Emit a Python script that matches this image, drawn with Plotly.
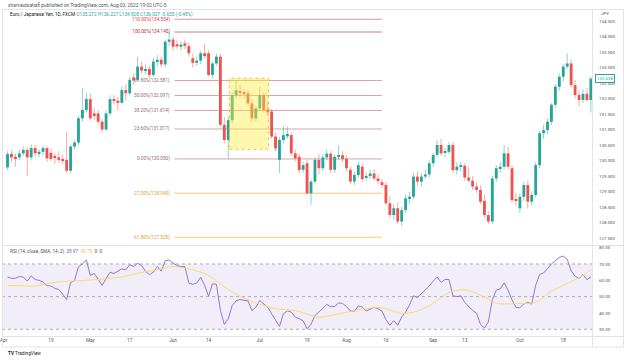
import numpy as np
import pandas as pd
import plotly.graph_objects as go

W, H = 624, 360


def px(x):
    return x / W


def py(y):
    return 1 - y / H


# ---------------- data ----------------
dates = pd.bdate_range("2021-04-02", periods=149)

opens = [129.78, 130.21, 130.12, 130.10, 130.23, 130.34, 130.10, 130.40, 130.23, 130.28,
         130.40, 130.25, 130.15, 130.10, 130.05, 130.02, 129.67, 130.45, 130.58, 131.36,
         131.63, 131.98, 131.52, 131.52, 131.25, 131.00, 131.52, 131.98, 131.93, 131.86,
         132.27, 132.17, 132.68, 132.60, 133.03, 132.90, 132.95, 132.76, 133.19, 133.25,
         133.10, 133.83, 133.90, 133.75, 133.67, 133.78, 133.69, 133.30, 133.15, 133.22,
         133.46, 133.46, 132.76, 133.13, 133.35, 131.15, 130.66, 131.30, 132.11, 132.22,
         132.20, 132.17, 131.84, 131.36, 131.68, 132.11, 131.65, 131.58, 130.77, 130.02,
         130.66, 130.78, 130.82, 130.23, 130.12, 129.70, 129.91, 128.94, 129.32, 130.02,
         129.75, 130.10, 130.22, 129.70, 130.12, 130.17, 130.05, 129.70, 129.32, 129.53,
         129.80, 129.45, 129.50, 129.58, 129.42, 129.30, 129.21, 128.62, 128.24, 128.46,
         128.03, 128.40, 128.78, 128.83, 129.48, 129.32, 129.48, 129.55, 129.91, 130.18,
         130.50, 130.25, 130.28, 130.50, 129.69, 129.80, 129.83, 129.45, 129.35, 129.16,
         129.05, 128.70, 128.24, 128.03, 129.42, 129.75, 129.80, 130.23, 129.75, 128.75,
         128.46, 128.83, 129.21, 128.67, 128.89, 129.85, 130.88, 130.98, 131.25, 131.80,
         132.38, 132.70, 133.03, 133.13, 132.43, 132.11, 131.95, 132.15, 131.95]

highs = [130.30, 130.32, 130.22, 130.35, 130.45, 130.42, 130.52, 130.50, 130.36, 130.48,
         130.47, 130.38, 130.25, 130.30, 130.18, 130.93, 130.50, 130.65, 131.45, 132.33,
         132.20, 132.15, 131.70, 131.62, 131.35, 131.60, 132.10, 132.10, 132.05, 132.40,
         132.45, 132.70, 132.80, 133.35, 133.20, 133.10, 133.05, 133.30, 133.40, 133.35,
         133.90, 134.145, 134.00, 133.90, 133.85, 133.90, 133.80, 133.45, 133.35, 133.55,
         133.78, 133.55, 133.20, 133.45, 133.45, 131.40, 131.40, 132.20, 132.60, 132.45,
         132.30, 132.28, 131.95, 131.75, 132.38, 132.20, 131.90, 131.65, 130.90, 130.75,
         131.10, 131.09, 130.90, 130.35, 130.20, 129.95, 130.00, 129.40, 130.10, 130.20,
         130.20, 130.35, 130.30, 130.20, 130.50, 130.30, 130.15, 129.80, 129.65, 129.95,
         129.90, 129.62, 129.70, 129.72, 129.55, 129.40, 129.30, 128.85, 128.60, 128.65,
         128.50, 128.90, 129.00, 129.60, 129.65, 129.60, 129.70, 130.00, 130.25, 130.65,
         130.70, 130.40, 130.60, 130.60, 129.95, 129.95, 129.90, 129.80, 129.50, 129.30,
         129.20, 128.90, 128.35, 129.50, 129.85, 129.95, 130.50, 130.45, 129.85, 128.95,
         128.95, 129.30, 129.35, 129.00, 129.95, 130.95, 131.15, 131.35, 131.85, 132.45,
         132.80, 133.10, 133.46, 133.25, 132.60, 132.25, 132.30, 132.35, 132.70]

lows = [129.70, 129.95, 129.80, 130.00, 130.15, 129.50, 130.00, 130.10, 130.12, 130.18,
        129.95, 129.98, 129.90, 129.93, 129.90, 129.60, 129.58, 130.35, 130.50, 131.25,
        131.55, 131.30, 131.30, 131.20, 130.90, 130.95, 131.45, 131.80, 131.60, 131.80,
        131.95, 132.10, 132.45, 132.55, 132.80, 132.80, 132.65, 132.70, 133.05, 133.00,
        133.00, 133.70, 133.55, 133.60, 133.55, 133.60, 133.35, 133.00, 133.05, 133.10,
        133.30, 132.70, 132.65, 133.05, 131.10, 130.55, 130.05, 131.20, 132.00, 132.05,
        132.00, 131.80, 131.25, 131.25, 131.60, 131.55, 131.45, 130.70, 130.30, 129.60,
        130.55, 130.70, 130.15, 129.98, 129.60, 129.60, 128.90, 128.57, 129.25, 129.55,
        129.65, 130.00, 129.60, 129.60, 130.02, 129.95, 129.65, 129.25, 129.20, 129.45,
        129.30, 129.35, 129.40, 129.35, 129.25, 129.10, 128.55, 128.15, 128.10, 127.95,
        127.90, 128.30, 128.60, 128.75, 129.20, 129.15, 129.40, 129.45, 129.80, 130.10,
        130.15, 130.10, 130.20, 129.60, 129.55, 129.65, 129.35, 129.30, 129.05, 128.95,
        128.60, 128.15, 127.95, 127.95, 129.30, 129.60, 129.70, 129.70, 128.65, 128.55,
        128.30, 128.70, 128.45, 128.55, 128.80, 129.75, 130.70, 130.85, 131.15, 131.70,
        132.25, 132.55, 132.95, 132.35, 132.00, 131.75, 131.85, 131.90, 131.55]

closes = [130.21, 130.10, 130.06, 130.23, 130.34, 130.10, 130.40, 130.23, 130.28, 130.40,
          130.07, 130.05, 130.10, 130.02, 129.98, 129.67, 130.45, 130.58, 131.36, 131.63,
          131.98, 131.36, 131.46, 131.25, 131.00, 131.52, 131.98, 131.93, 131.86, 132.27,
          132.17, 132.60, 132.58, 133.03, 132.90, 132.95, 132.76, 133.19, 133.25, 133.10,
          133.83, 133.90, 133.67, 133.68, 133.74, 133.70, 133.46, 133.15, 133.22, 133.46,
          133.40, 132.76, 133.13, 133.35, 131.15, 130.66, 131.30, 132.11, 132.27, 132.18,
          132.15, 131.84, 131.36, 131.68, 132.11, 131.63, 131.55, 130.77, 130.39, 130.66,
          130.82, 130.86, 130.23, 130.07, 129.69, 129.85, 128.94, 129.32, 130.02, 129.75,
          130.10, 130.22, 129.70, 130.12, 130.17, 130.05, 129.75, 129.32, 129.53, 129.85,
          129.40, 129.50, 129.58, 129.42, 129.37, 129.21, 128.62, 128.24, 128.46, 128.03,
          128.40, 128.78, 128.83, 129.48, 129.32, 129.48, 129.55, 129.91, 130.18, 130.50,
          130.23, 130.28, 130.50, 129.69, 129.80, 129.83, 129.45, 129.35, 129.16, 129.05,
          128.67, 128.24, 128.03, 129.42, 129.75, 129.80, 130.23, 129.80, 128.72, 128.70,
          128.83, 129.21, 128.67, 128.89, 129.85, 130.88, 130.98, 131.25, 131.80, 132.38,
          132.70, 133.03, 133.13, 132.43, 132.11, 131.95, 132.15, 131.95, 132.638]

rsi = [62.0, 61.2, 61.2, 62.3, 62.0, 59.5, 62.7, 60.5, 60.0, 59.0,
       56.7, 56.5, 55.0, 54.4, 51.5, 48.2, 58.6, 59.9, 68.3, 70.0,
       72.4, 63.0, 64.2, 60.5, 56.9, 61.0, 64.9, 64.2, 65.5, 67.0,
       66.4, 69.6, 68.4, 70.4, 69.2, 65.5, 63.5, 64.9, 68.4, 65.6,
       72.0, 72.4, 70.5, 69.0, 68.4, 68.4, 58.3, 57.5, 58.3, 61.9,
       57.0, 50.2, 57.9, 57.5, 41.7, 33.0, 36.5, 44.5, 47.5, 48.2,
       47.8, 47.4, 41.5, 43.5, 47.6, 45.8, 43.5, 39.5, 35.5, 31.8,
       39.5, 41.3, 40.5, 37.4, 36.5, 35.2, 30.3, 33.0, 38.5, 40.5,
       42.8, 45.3, 43.8, 44.0, 46.1, 45.9, 43.9, 41.2, 41.0, 44.3,
       43.6, 41.2, 42.5, 43.5, 42.5, 41.2, 36.0, 32.5, 35.3, 32.5,
       37.5, 40.5, 45.0, 50.5, 49.5, 51.8, 54.0, 56.5, 59.5, 62.0,
       58.7, 60.5, 60.5, 50.5, 50.0, 50.5, 46.5, 43.7, 41.5, 39.9,
       33.0, 30.8, 34.5, 48.0, 54.0, 54.7, 58.5, 54.0, 48.0, 43.4,
       43.2, 45.5, 46.5, 45.4, 57.0, 63.5, 64.6, 67.0, 70.0, 72.0,
       74.0, 74.8, 73.0, 65.8, 62.5, 61.1, 63.5, 60.4, 62.0]

rsi_ma_dates = ["2021-04-02", "2021-04-09", "2021-04-13", "2021-04-16", "2021-04-21",
                "2021-04-30", "2021-05-07", "2021-05-14", "2021-05-19", "2021-05-26",
                "2021-06-01", "2021-06-07", "2021-06-14", "2021-06-21", "2021-06-29",
                "2021-07-07", "2021-07-14", "2021-07-22", "2021-07-30", "2021-08-09",
                "2021-08-13", "2021-08-20", "2021-08-26", "2021-09-01", "2021-09-07",
                "2021-09-13", "2021-09-17", "2021-09-23", "2021-10-01", "2021-10-07",
                "2021-10-13", "2021-10-19", "2021-10-25", "2021-10-27"]
rsi_ma = [56.9, 56.5, 56.3, 58.0, 59.0, 60.0, 60.9, 62.5, 64.3, 66.5,
          68.4, 67.0, 63.0, 54.3, 47.0, 42.7, 41.5, 37.5, 40.0, 42.7,
          43.3, 39.7, 41.1, 45.8, 52.5, 54.2, 51.0, 46.0, 45.8, 46.5,
          53.4, 57.9, 63.0, 66.5]

fib_ratios = ["110.00%", "100.00%", "61.80%", "50.00%", "38.20%", "23.60%", "0.00%", "-27.00%", "-61.80%"]
fib_prices = [134.554, 134.145, 132.581, 132.097, 131.614, 131.017, 130.050, 128.945, 127.525]

tick_dates = ["2021-04-01", "2021-04-19", "2021-05-03", "2021-05-17", "2021-06-01", "2021-06-14",
              "2021-07-01", "2021-07-19", "2021-08-02", "2021-08-16", "2021-09-01", "2021-09-13",
              "2021-10-01", "2021-10-18"]
tick_labels = ["Apr", "19", "May", "17", "Jun", "14", "Jul", "19", "Aug", "16", "Sep", "13", "Oct", "18"]

# ---------------- styling ----------------
UP = "#26a69a"
DN = "#ef5350"
UP_W = "rgba(38,166,154,0.5)"
DN_W = "rgba(239,83,80,0.5)"
FONT = "Roboto"
TXT = "#50535e"
FS = 4.7

fib_line_colors = ["rgba(242,54,69,0.55)", "rgba(150,40,45,0.6)"] + ["rgba(150,60,60,0.45)"] * 5 + \
                  ["rgba(240,180,60,0.7)"] * 2
fib_text_colors = ["#f23645", "#9c3a3d"] + ["#8d6e6e"] * 5 + ["#d9a227"] * 2

x_start = np.datetime64("2021-04-02")


def pos(d):
    return int(np.busday_count(x_start, np.datetime64(d)))


xs = np.arange(len(dates))
bar_px = 3.954
X_RANGE = [-5.55 / bar_px, (592 - 5.55) / bar_px]

is_up = [c >= o for o, c in zip(opens, closes)]

fig = go.Figure()

for flag, col in [(True, UP_W), (False, DN_W)]:
    wx, wy = [], []
    for i in range(len(xs)):
        if is_up[i] == flag:
            wx += [xs[i], xs[i], None]
            wy += [lows[i], highs[i], None]
    fig.add_trace(go.Scatter(x=wx, y=wy, mode="lines", line=dict(color=col, width=1),
                             hoverinfo="skip", showlegend=False, xaxis="x", yaxis="y"))

bases = [min(o, c) for o, c in zip(opens, closes)]
heights = [max(abs(c - o), 0.025) for o, c in zip(opens, closes)]
fig.add_trace(go.Bar(x=xs, y=heights, base=bases,
                     marker=dict(color=[UP if u else DN for u in is_up], line=dict(width=0)),
                     width=0.72, showlegend=False, xaxis="x", yaxis="y"))

fig.add_trace(go.Scatter(x=xs, y=rsi, mode="lines", line=dict(color="#9575cd", width=1),
                         showlegend=False, xaxis="x2", yaxis="y2"))
fig.add_trace(go.Scatter(x=[pos(d) for d in rsi_ma_dates], y=rsi_ma, mode="lines",
                         line=dict(color="#f5dc72", width=1, shape="spline", smoothing=0.8),
                         showlegend=False, xaxis="x2", yaxis="y2"))

shapes = []
annotations = []

FIB_X0, FIB_X1 = 42.35, 95.0
for r, p, lc, tc in zip(fib_ratios, fib_prices, fib_line_colors, fib_text_colors):
    shapes.append(dict(type="line", xref="x", yref="y", x0=FIB_X0, x1=FIB_X1, y0=p, y1=p,
                       line=dict(color=lc, width=1), layer="below"))
    annotations.append(dict(xref="x", yref="y", x=FIB_X0, y=p, xanchor="right", yanchor="middle",
                            xshift=-2, text=f"{r}({p:.3f})", showarrow=False,
                            font=dict(family=FONT, size=FS, color=tc)))

# highlighted box
shapes.append(dict(type="rect", xref="x", yref="y", x0=56.3, x1=66.2, y0=130.36, y1=132.65,
                   fillcolor="rgba(255,235,59,0.42)", line=dict(color="rgba(245,190,40,0.9)", width=1, dash="dot"),
                   layer="above"))

# RSI band and levels
shapes.append(dict(type="rect", xref="x2 domain", yref="y2", x0=0, x1=1, y0=30, y1=70,
                   fillcolor="rgba(126,87,194,0.10)", line=dict(width=0), layer="below"))
for lvl in (70, 50, 30):
    shapes.append(dict(type="line", xref="x2 domain", yref="y2", x0=0, x1=1, y0=lvl, y1=lvl,
                       line=dict(color="rgba(120,123,134,0.6)", width=1, dash="dot"), layer="below"))

# frame
FR = "#e0e3eb"
for (x0, y0, x1, y1) in [(0, 9.5, 624, 9.5), (592.5, 9.5, 592.5, 347), (0, 245.5, 624, 245.5),
                         (0, 336.5, 624, 336.5), (0, 347, 624, 347), (623.5, 9.5, 623.5, 347),
                         (0.5, 9.5, 0.5, 347)]:
    shapes.append(dict(type="line", xref="paper", yref="paper", x0=px(x0), x1=px(x1), y0=py(y0), y1=py(y1),
                       line=dict(color=FR, width=1)))

# texts
annotations.append(dict(xref="paper", yref="paper", x=px(4), y=py(5), xanchor="left", yanchor="middle",
                        text="sharvautsahafi published on TradingView.com, Aug 03, 2022 19:02 UTC-5",
                        showarrow=False, font=dict(family=FONT, size=4.9, color=TXT)))
annotations.append(dict(xref="paper", yref="paper", x=px(6), y=py(15), xanchor="left", yanchor="middle",
                        text="Euro / Japanese Yen, 1D, FXCM "
                             "<span style='color:#26a69a'>O135.272 H136.227 L134.828 C136.027 -0.655 (-0.48%)</span>",
                        showarrow=False, font=dict(family=FONT, size=4.7, color="#131722")))
annotations.append(dict(xref="paper", yref="paper", x=px(599), y=py(14), xanchor="left", yanchor="middle",
                        text="JPY", showarrow=False, font=dict(family=FONT, size=FS - 0.3, color=TXT)))
annotations.append(dict(xref="paper", yref="paper", x=px(6), y=py(251), xanchor="left", yanchor="middle",
                        text="RSI (14, close, SMA, 14, 2)  <span style='color:#7e57c2'>38.97</span>  "
                             "<span style='color:#e8c547'>45.75</span>  0  0",
                        showarrow=False, font=dict(family=FONT, size=FS, color=TXT)))
annotations.append(dict(xref="paper", yref="paper", x=px(4), y=py(353), xanchor="left", yanchor="middle",
                        text="<b>TV</b> TradingView", showarrow=False,
                        font=dict(family=FONT, size=FS, color="#131722")))
annotations.append(dict(xref="paper", yref="y", x=px(595), y=closes[-1], xanchor="left", yanchor="middle",
                        text=f"{closes[-1]:.3f}", showarrow=False, bgcolor="white", bordercolor=UP,
                        borderwidth=1, borderpad=1, font=dict(family=FONT, size=FS - 0.3, color=UP)))

axis_common = dict(showgrid=False, zeroline=False, showline=False)

fig.update_layout(
    width=W, height=H, margin=dict(l=0, r=0, t=0, b=0),
    paper_bgcolor="white", plot_bgcolor="white",
    barmode="overlay", showlegend=False,
    font=dict(family=FONT, size=FS, color=TXT),
    xaxis=dict(domain=[0, px(592)], range=X_RANGE, anchor="y", showticklabels=False, ticks="",
               rangeslider=dict(visible=False), **axis_common),
    xaxis2=dict(domain=[0, px(592)], range=X_RANGE, anchor="y2", matches="x",
                tickmode="array", tickvals=[pos(d) for d in tick_dates], ticktext=tick_labels,
                ticks="", ticklabeloverflow="allow",
                tickfont=dict(family=FONT, size=FS, color=TXT), **axis_common),
    yaxis=dict(domain=[py(245), py(12)], range=[127.274, 134.79], anchor="x", side="right",
               tick0=127.5, dtick=0.5, tickformat=".3f", ticks="", ticklabelstandoff=6,
               tickfont=dict(family=FONT, size=FS - 0.3, color=TXT), **axis_common),
    yaxis2=dict(domain=[py(336), py(245.5)], range=[25.9, 81.3], anchor="x2", side="right",
                tickmode="array", tickvals=[30, 40, 50, 60, 70, 80], tickformat=".2f", ticks="",
                ticklabelstandoff=6, ticklabeloverflow="allow",
                tickfont=dict(family=FONT, size=FS - 0.3, color=TXT), **axis_common),
    shapes=shapes, annotations=annotations,
)

fig.write_html("out.html", config={"displayModeBar": False},
               post_script="document.body.style.margin='0';document.body.style.overflow='hidden';")
